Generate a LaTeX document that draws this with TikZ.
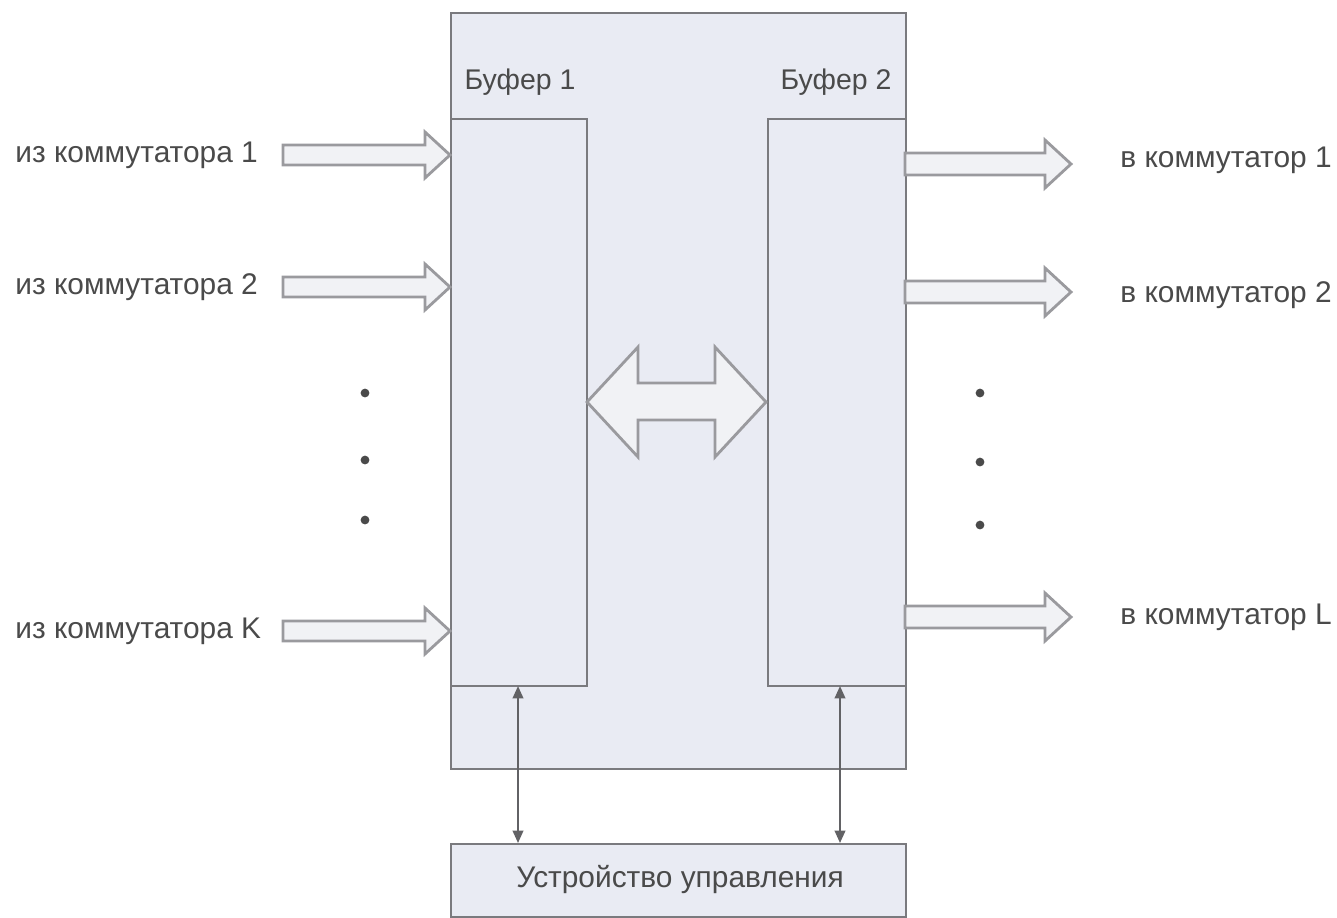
\documentclass[tikz,border=0pt]{standalone}
\usepackage{fontspec}
\setmainfont{Liberation Sans}
\usetikzlibrary{arrows.meta}
\definecolor{boxfill}{HTML}{E9EBF3}
\definecolor{boxline}{HTML}{7A7A7E}
\definecolor{txt}{HTML}{4A4A4A}
\definecolor{arrfill}{HTML}{F1F2F5}
\definecolor{arrline}{HTML}{9A9A9E}
\tikzset{
  box/.style={draw=boxline, fill=boxfill, line width=1.3pt, inner sep=0pt, anchor=north west},
  lbl/.style={text=txt, font=\fontsize{17}{20}\selectfont, inner sep=0pt},
  blbl/.style={text=txt, font=\fontsize{16.2}{19}\selectfont, inner sep=0pt},
  blk/.style={draw=arrline, fill=arrfill, line width=1.6pt, line join=miter},
  ctl/.style={draw=boxline!80!black, line width=1.1pt, {Triangle[length=7pt,width=6pt]}-{Triangle[length=7pt,width=6pt]}},
  dotn/.style={circle, fill=txt, inner sep=0pt, minimum size=5pt}
}
\begin{document}
\begin{tikzpicture}[x=0.02cm, y=-0.02cm]
\useasboundingbox (0,0) rectangle (1337,917);
% boxes
\node[box, minimum width=9.1cm, minimum height=15.12cm] (outer) at (450,12) {};
\node[box, minimum width=2.72cm, minimum height=11.34cm] (buf1) at (450,118) {};
\node[box, minimum width=2.76cm, minimum height=11.34cm] (buf2) at (767,118) {};
\node[box, minimum width=9.1cm, minimum height=1.46cm] (ctrl) at (450,843) {};
\node[lbl] (ctrltxt) at (680,879) {Устройство управления};
\node[blbl] (b1lbl) at (520,82) {Буфер 1};
\node[blbl] (b2lbl) at (836,82) {Буфер 2};
% control arrows
\coordinate (c1top) at (518,686);
\coordinate (c1bot) at (518,843);
\coordinate (c2top) at (840,686);
\coordinate (c2bot) at (840,843);
\draw[ctl] (c1top) -- (c1bot);
\draw[ctl] (c2top) -- (c2bot);
% input block arrows
\foreach \y/\n in {155/1, 287/2, 631/K} {
  \node[lbl, anchor=west] (in\n) at (15,\y) {из коммутатора \n};
  \draw[blk] (283,\y-10) -- (425,\y-10) -- (425,\y-23) -- (450,\y) -- (425,\y+23) -- (425,\y+10) -- (283,\y+10) -- cycle;
}
% output block arrows
\foreach \y/\yl/\n in {164/160/1, 292/295/2, 617/617/L} {
  \node[lbl, anchor=west] (out\n) at (1120,\yl) {в коммутатор \n};
  \draw[blk] (905,\y-11) -- (1045,\y-11) -- (1045,\y-24) -- (1071,\y) -- (1045,\y+24) -- (1045,\y+11) -- (905,\y+11) -- cycle;
}
% double arrow
\draw[blk] (587,402) -- (638,347) -- (638,383) -- (715,383) -- (715,347) -- (766,402) -- (715,457) -- (715,420) -- (638,420) -- (638,457) -- cycle;
% dots
\node[dotn] (dl1) at (365,393) {};
\node[dotn] (dl2) at (365,460) {};
\node[dotn] (dl3) at (365,520) {};
\node[dotn] (dr1) at (980,393) {};
\node[dotn] (dr2) at (980,462) {};
\node[dotn] (dr3) at (980,525) {};
\end{tikzpicture}
\end{document}
